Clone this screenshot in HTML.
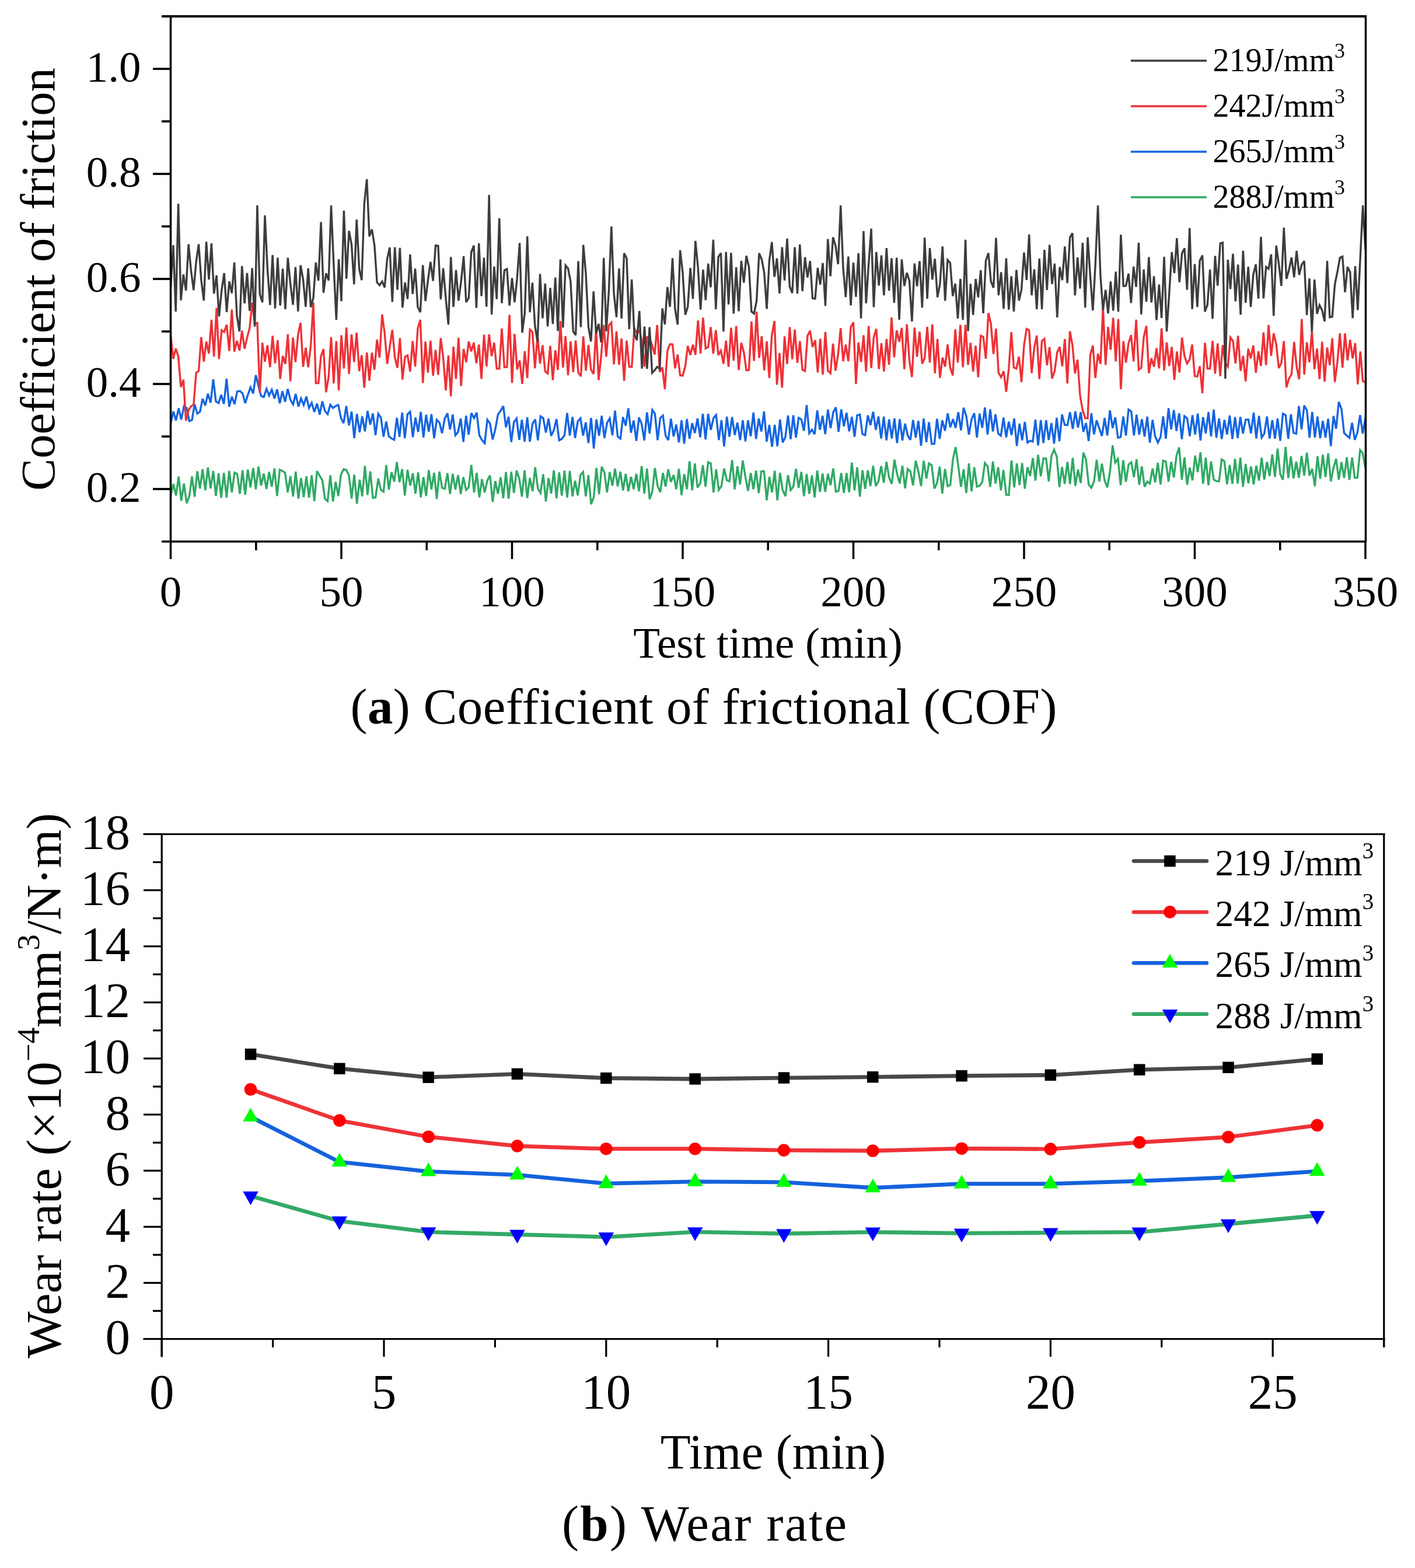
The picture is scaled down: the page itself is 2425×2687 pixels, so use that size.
<!DOCTYPE html>
<html><head><meta charset="utf-8"><title>Figure</title>
<style>html,body{margin:0;padding:0;background:#fff;}svg{display:block;}</style>
</head><body>
<svg width="2425" height="2687" viewBox="0 0 2425 2687">
<rect width="2425" height="2687" fill="#ffffff"/>
<g clip-path="url(#clipTop)">
<polyline fill="none" stroke="#2fa964" stroke-width="3.4" stroke-linejoin="miter" stroke-miterlimit="3" points="292.5,849.1 297.1,829.4 301.6,849.2 306.2,816.6 310.7,858.2 315.3,828.4 319.9,862.4 324.4,850.5 329.0,816.5 333.5,851.3 338.1,807.5 342.7,837.2 347.2,804.1 351.8,840.1 356.3,801.2 360.9,837.0 365.5,807.0 370.0,849.7 374.6,811.3 379.1,853.0 383.7,810.3 388.3,852.7 392.8,806.9 397.4,843.7 401.9,809.9 406.5,812.2 411.1,846.4 415.6,805.8 420.2,847.8 424.7,804.6 429.3,835.3 433.9,801.9 438.4,838.6 443.0,799.5 447.5,832.1 452.1,811.6 456.7,838.0 461.2,808.6 465.8,834.3 470.3,802.8 474.9,850.0 479.5,804.9 484.0,806.9 488.6,810.3 493.1,843.7 497.7,815.9 502.3,850.7 506.8,808.2 511.4,854.6 515.9,819.3 520.5,851.9 525.1,816.2 529.6,852.7 534.2,814.5 538.7,858.8 543.3,807.4 547.9,815.7 552.4,822.9 557.0,855.0 561.5,858.7 566.1,814.4 570.7,859.4 575.2,825.8 579.8,850.1 584.3,813.4 588.9,804.1 593.5,805.3 598.0,814.4 602.6,854.4 607.1,813.4 611.7,863.3 616.3,822.1 620.8,850.6 625.4,798.3 629.9,848.3 634.5,807.6 639.1,853.2 643.6,852.3 648.2,820.2 652.8,839.8 657.3,842.6 661.9,797.0 666.4,839.1 671.0,809.2 675.6,825.2 680.1,791.7 684.7,826.2 689.2,803.8 693.8,849.2 698.4,805.1 702.9,832.2 707.5,811.0 712.0,846.0 716.6,809.4 721.2,852.2 725.7,817.6 730.3,850.0 734.8,805.6 739.4,838.4 744.0,810.1 748.5,855.1 753.1,808.1 757.6,836.0 762.2,837.7 766.8,810.7 771.3,846.5 775.9,811.9 780.4,839.0 785.0,814.1 789.6,846.5 794.1,817.5 798.7,839.7 803.2,835.3 807.8,796.6 812.4,843.7 816.9,810.2 821.5,852.2 826.0,821.2 830.6,843.9 835.2,823.5 839.7,814.8 844.3,860.2 848.8,824.3 853.4,846.3 858.0,817.7 862.5,853.8 867.1,809.0 871.6,854.7 876.2,808.4 880.8,844.7 885.3,806.5 889.9,820.0 894.4,851.2 899.0,806.0 903.6,853.6 908.1,818.9 912.7,841.8 917.2,800.8 921.8,837.3 926.4,844.9 930.9,812.6 935.5,859.4 940.0,819.2 944.6,845.6 949.2,805.9 953.7,854.1 958.3,809.4 962.8,849.3 967.4,806.4 972.0,852.7 976.5,807.0 981.1,850.5 985.6,823.9 990.2,849.1 994.8,813.8 999.3,808.7 1003.9,850.5 1008.4,814.1 1013.0,864.2 1017.6,851.7 1022.1,801.6 1026.7,846.8 1031.2,799.8 1035.8,809.6 1040.4,843.9 1044.9,808.9 1049.5,832.5 1054.0,803.0 1058.6,833.4 1063.2,808.4 1067.7,840.6 1072.3,811.9 1076.8,842.0 1081.4,817.0 1086.0,838.3 1090.5,811.9 1095.1,841.9 1099.6,798.6 1104.2,845.9 1108.8,802.9 1113.3,855.4 1117.9,842.4 1122.4,802.0 1127.0,833.1 1131.6,843.4 1136.1,810.4 1140.7,833.8 1145.2,804.2 1149.8,825.8 1154.4,814.0 1158.9,838.5 1163.5,803.5 1168.0,848.6 1172.6,812.5 1177.2,838.3 1181.7,790.4 1186.3,840.4 1190.8,794.1 1195.4,835.6 1200.0,828.2 1204.5,797.3 1209.1,834.1 1213.6,792.0 1218.2,794.1 1222.8,843.9 1227.3,804.1 1231.9,839.5 1236.4,832.9 1241.0,802.8 1245.6,822.9 1250.1,824.8 1254.7,788.3 1259.2,838.5 1263.8,798.9 1268.4,830.3 1272.9,788.9 1277.5,817.6 1282.0,841.2 1286.6,810.4 1291.2,838.5 1295.7,806.4 1300.3,845.1 1304.8,807.6 1309.4,807.6 1314.0,857.3 1318.5,817.2 1323.1,843.9 1327.7,806.8 1332.2,857.3 1336.8,810.2 1341.3,840.0 1345.9,850.2 1350.5,814.2 1355.0,839.9 1359.6,833.9 1364.1,803.2 1368.7,836.0 1373.3,808.6 1377.8,850.2 1382.4,812.3 1386.9,846.3 1391.5,814.6 1396.1,852.4 1400.6,806.5 1405.2,843.1 1409.7,811.6 1414.3,842.9 1418.9,811.8 1423.4,831.4 1428.0,802.6 1432.5,842.5 1437.1,841.2 1441.7,810.4 1446.2,844.8 1450.8,810.7 1455.3,843.7 1459.9,792.7 1464.5,840.4 1469.0,800.9 1473.6,851.2 1478.1,805.8 1482.7,837.8 1487.3,806.0 1491.8,833.1 1496.4,798.2 1500.9,833.0 1505.5,824.8 1510.1,798.7 1514.6,827.4 1519.2,791.4 1523.7,818.2 1528.3,829.2 1532.9,787.8 1537.4,812.0 1542.0,828.6 1546.5,798.2 1551.1,836.9 1555.7,803.6 1560.2,807.7 1564.8,831.9 1569.3,789.5 1573.9,807.8 1578.5,833.0 1583.0,789.5 1587.6,820.3 1592.1,794.0 1596.7,797.3 1601.3,837.3 1605.8,827.9 1610.4,799.4 1614.9,845.8 1619.5,803.6 1624.1,833.2 1628.6,831.2 1633.2,786.6 1637.7,766.0 1642.3,798.7 1646.9,834.2 1651.4,804.3 1656.0,844.8 1660.5,794.1 1665.1,842.1 1669.7,800.8 1674.2,833.9 1678.8,832.3 1683.3,826.3 1687.9,793.3 1692.5,798.9 1697.0,834.4 1701.6,790.6 1706.1,828.7 1710.7,800.7 1715.3,840.2 1719.8,805.4 1724.4,847.8 1728.9,848.1 1733.5,789.2 1738.1,835.2 1742.6,794.2 1747.2,831.2 1751.7,793.5 1756.3,837.5 1760.9,800.6 1765.4,815.8 1770.0,784.9 1774.5,823.5 1779.1,779.5 1783.7,816.2 1788.2,785.6 1792.8,785.8 1797.3,825.0 1801.9,781.9 1806.5,770.5 1811.0,782.4 1815.6,834.9 1820.1,800.2 1824.7,829.3 1829.3,791.4 1833.8,829.5 1838.4,784.6 1842.9,832.6 1847.5,804.6 1852.1,827.8 1856.6,775.6 1861.2,787.4 1865.7,830.1 1870.3,835.9 1874.9,825.2 1879.4,787.9 1884.0,825.1 1888.5,794.6 1893.1,823.6 1897.7,835.1 1902.2,808.9 1906.8,763.3 1911.3,792.6 1915.9,786.2 1920.5,831.3 1925.0,788.6 1929.6,825.8 1934.1,796.3 1938.7,792.3 1943.3,817.8 1947.8,787.2 1952.4,830.8 1956.9,799.2 1961.5,834.1 1966.1,825.4 1970.6,828.7 1975.2,802.8 1979.7,826.7 1984.3,793.1 1988.9,830.3 1993.4,789.4 1998.0,791.0 2002.6,825.4 2007.1,791.4 2011.7,818.3 2016.2,781.0 2020.8,766.6 2025.4,822.3 2029.9,783.7 2034.5,830.6 2039.0,801.4 2043.6,823.1 2048.2,780.8 2052.7,808.9 2057.3,775.2 2061.8,829.1 2066.4,784.1 2071.0,831.5 2075.5,790.7 2080.1,821.9 2084.6,824.4 2089.2,824.9 2093.8,787.3 2098.3,790.4 2102.9,829.9 2107.4,796.8 2112.0,829.1 2116.6,786.2 2121.1,828.6 2125.7,784.1 2130.2,834.4 2134.8,795.0 2139.4,828.3 2143.9,799.2 2148.5,830.2 2153.0,798.0 2157.6,823.5 2162.2,784.5 2166.7,821.8 2171.3,791.4 2175.8,815.8 2180.4,778.6 2185.0,817.3 2189.5,768.8 2194.1,812.6 2198.6,822.2 2203.2,766.0 2207.8,819.1 2212.3,782.2 2216.9,819.7 2221.4,791.1 2226.0,818.7 2230.6,781.2 2235.1,815.1 2239.7,775.7 2244.2,815.0 2248.8,803.5 2253.4,833.3 2257.9,781.9 2262.5,820.5 2267.0,779.1 2271.6,817.6 2276.2,776.6 2280.7,824.8 2285.3,801.7 2289.8,786.1 2294.4,822.0 2299.0,791.8 2303.5,819.0 2308.1,783.6 2312.6,822.2 2317.2,784.2 2321.8,818.9 2326.3,818.5 2330.9,771.2 2335.4,776.5 2340.0,802.8"/>
<polyline fill="none" stroke="#1565e0" stroke-width="3.4" stroke-linejoin="miter" stroke-miterlimit="3" points="292.5,725.3 297.1,705.0 301.6,720.4 306.2,699.7 310.7,719.0 315.3,696.0 319.9,699.1 324.4,721.6 329.0,719.7 333.5,692.6 338.1,708.8 342.7,705.6 347.2,683.4 351.8,694.8 356.3,674.7 360.9,690.1 365.5,649.9 370.0,687.9 374.6,690.7 379.1,676.4 383.7,692.1 388.3,649.0 392.8,696.9 397.4,679.8 401.9,692.8 406.5,670.9 411.1,670.1 415.6,673.9 420.2,690.9 424.7,676.9 429.3,663.7 433.9,674.2 438.4,642.7 443.0,661.5 447.5,678.6 452.1,680.4 456.7,666.4 461.2,677.9 465.8,667.9 470.3,682.9 474.9,667.4 479.5,691.2 484.0,670.4 488.6,688.7 493.1,666.5 497.7,685.1 502.3,693.0 506.8,675.0 511.4,696.8 515.9,682.8 520.5,694.1 525.1,679.6 529.6,699.2 534.2,690.3 538.7,706.1 543.3,691.6 547.9,710.5 552.4,687.7 557.0,704.5 561.5,709.8 566.1,693.5 570.7,699.2 575.2,695.7 579.8,694.0 584.3,716.3 588.9,725.1 593.5,695.7 598.0,729.0 602.6,705.4 607.1,750.9 611.7,709.3 616.3,740.7 620.8,713.6 625.4,739.2 629.9,704.2 634.5,727.6 639.1,708.5 643.6,745.9 648.2,709.1 652.8,715.7 657.3,748.5 661.9,722.2 666.4,747.8 671.0,751.4 675.6,753.7 680.1,715.9 684.7,748.5 689.2,707.0 693.8,750.9 698.4,709.9 702.9,705.6 707.5,749.3 712.0,715.4 716.6,740.3 721.2,705.8 725.7,749.7 730.3,710.8 734.8,739.7 739.4,709.7 744.0,751.0 748.5,719.4 753.1,724.0 757.6,742.4 762.2,717.4 766.8,708.2 771.3,736.0 775.9,710.2 780.4,745.9 785.0,740.4 789.6,717.2 794.1,757.3 798.7,712.5 803.2,744.9 807.8,707.9 812.4,716.4 816.9,707.0 821.5,745.9 826.0,754.1 830.6,759.5 835.2,719.3 839.7,725.6 844.3,753.1 848.8,736.0 853.4,710.3 858.0,703.8 862.5,695.8 867.1,732.3 871.6,714.1 876.2,757.4 880.8,723.1 885.3,717.2 889.9,753.7 894.4,719.3 899.0,756.8 903.6,715.1 908.1,757.1 912.7,726.2 917.2,718.6 921.8,754.6 926.4,713.4 930.9,716.3 935.5,741.4 940.0,717.3 944.6,746.9 949.2,736.9 953.7,718.2 958.3,754.6 962.8,752.1 967.4,745.8 972.0,707.8 976.5,746.6 981.1,714.4 985.6,750.6 990.2,722.1 994.8,716.8 999.3,746.5 1003.9,723.8 1008.4,759.4 1013.0,716.2 1017.6,768.6 1022.1,718.8 1026.7,746.8 1031.2,712.4 1035.8,750.6 1040.4,724.7 1044.9,717.0 1049.5,746.0 1054.0,703.7 1058.6,748.1 1063.2,751.6 1067.7,714.8 1072.3,729.5 1076.8,699.6 1081.4,741.5 1086.0,720.4 1090.5,755.6 1095.1,715.4 1099.6,726.4 1104.2,754.8 1108.8,706.6 1113.3,742.7 1117.9,702.6 1122.4,708.9 1127.0,754.3 1131.6,716.1 1136.1,712.1 1140.7,746.5 1145.2,754.2 1149.8,717.5 1154.4,748.0 1158.9,727.4 1163.5,758.1 1168.0,720.3 1172.6,760.3 1177.2,718.0 1181.7,752.0 1186.3,725.1 1190.8,742.3 1195.4,717.1 1200.0,749.4 1204.5,709.3 1209.1,753.0 1213.6,709.1 1218.2,736.6 1222.8,716.3 1227.3,711.2 1231.9,754.1 1236.4,720.0 1241.0,765.0 1245.6,713.9 1250.1,748.6 1254.7,714.7 1259.2,745.4 1263.8,724.3 1268.4,754.3 1272.9,720.1 1277.5,756.3 1282.0,720.3 1286.6,747.6 1291.2,707.0 1295.7,752.2 1300.3,717.1 1304.8,739.5 1309.4,704.9 1314.0,756.8 1318.5,728.1 1323.1,765.6 1327.7,727.9 1332.2,764.8 1336.8,718.9 1341.3,758.1 1345.9,749.2 1350.5,712.0 1355.0,752.6 1359.6,711.8 1364.1,749.9 1368.7,716.0 1373.3,718.6 1377.8,738.4 1382.4,694.2 1386.9,742.4 1391.5,736.3 1396.1,744.1 1400.6,703.3 1405.2,736.6 1409.7,712.6 1414.3,744.1 1418.9,701.8 1423.4,733.6 1428.0,706.4 1432.5,698.0 1437.1,740.0 1441.7,701.4 1446.2,730.4 1450.8,707.3 1455.3,739.2 1459.9,714.2 1464.5,748.5 1469.0,711.5 1473.6,710.3 1478.1,743.7 1482.7,745.7 1487.3,711.7 1491.8,728.6 1496.4,705.5 1500.9,736.6 1505.5,713.7 1510.1,751.5 1514.6,714.0 1519.2,754.5 1523.7,718.7 1528.3,751.4 1532.9,716.9 1537.4,759.2 1542.0,718.2 1546.5,754.7 1551.1,725.9 1555.7,746.3 1560.2,753.8 1564.8,719.7 1569.3,750.0 1573.9,721.1 1578.5,763.8 1583.0,717.1 1587.6,757.9 1592.1,723.5 1596.7,760.7 1601.3,760.4 1605.8,717.8 1610.4,752.0 1614.9,720.3 1619.5,738.3 1624.1,708.4 1628.6,732.3 1633.2,718.3 1637.7,733.2 1642.3,706.2 1646.9,737.5 1651.4,698.7 1656.0,713.0 1660.5,744.7 1665.1,718.4 1669.7,708.2 1674.2,749.9 1678.8,708.8 1683.3,733.3 1687.9,698.1 1692.5,744.5 1697.0,701.5 1701.6,739.4 1706.1,710.1 1710.7,743.0 1715.3,746.7 1719.8,715.6 1724.4,749.4 1728.9,722.6 1733.5,745.4 1738.1,717.2 1742.6,764.2 1747.2,725.9 1751.7,754.6 1756.3,722.9 1760.9,758.5 1765.4,755.4 1770.0,756.7 1774.5,719.3 1779.1,763.3 1783.7,719.9 1788.2,759.2 1792.8,720.0 1797.3,754.1 1801.9,724.9 1806.5,760.3 1811.0,715.9 1815.6,756.2 1820.1,710.1 1824.7,728.2 1829.3,728.5 1833.8,706.4 1838.4,735.1 1842.9,704.9 1847.5,732.6 1852.1,706.2 1856.6,740.1 1861.2,725.0 1865.7,755.7 1870.3,708.0 1874.9,744.4 1879.4,720.2 1884.0,734.6 1888.5,747.1 1893.1,716.3 1897.7,746.4 1902.2,703.2 1906.8,733.6 1911.3,715.1 1915.9,750.2 1920.5,748.9 1925.0,713.8 1929.6,746.4 1934.1,701.9 1938.7,705.2 1943.3,746.4 1947.8,710.6 1952.4,744.7 1956.9,718.2 1961.5,748.2 1966.1,714.0 1970.6,758.6 1975.2,719.6 1979.7,747.8 1984.3,758.4 1988.9,749.1 1993.4,713.5 1998.0,751.9 2002.6,699.4 2007.1,735.7 2011.7,702.7 2016.2,738.5 2020.8,708.3 2025.4,752.6 2029.9,713.1 2034.5,716.8 2039.0,747.5 2043.6,711.5 2048.2,744.8 2052.7,708.7 2057.3,754.8 2061.8,714.8 2066.4,742.7 2071.0,706.2 2075.5,747.8 2080.1,701.8 2084.6,750.2 2089.2,717.1 2093.8,752.2 2098.3,719.5 2102.9,744.5 2107.4,712.0 2112.0,752.2 2116.6,714.6 2121.1,750.7 2125.7,714.4 2130.2,743.0 2134.8,719.3 2139.4,718.9 2143.9,742.6 2148.5,707.2 2153.0,751.3 2157.6,712.7 2162.2,750.0 2166.7,743.1 2171.3,713.7 2175.8,751.5 2180.4,720.1 2185.0,751.7 2189.5,717.2 2194.1,755.3 2198.6,708.9 2203.2,711.3 2207.8,751.8 2212.3,709.9 2216.9,741.8 2221.4,743.3 2226.0,695.8 2230.6,735.8 2235.1,694.9 2239.7,703.0 2244.2,750.2 2248.8,706.0 2253.4,749.7 2257.9,713.7 2262.5,751.0 2267.0,721.2 2271.6,750.0 2276.2,717.6 2280.7,764.5 2285.3,712.9 2289.8,734.7 2294.4,688.7 2299.0,700.9 2303.5,742.3 2308.1,746.6 2312.6,750.4 2317.2,724.5 2321.8,753.8 2326.3,741.3 2330.9,711.3 2335.4,743.1 2340.0,716.3"/>
<polyline fill="none" stroke="#ee3136" stroke-width="3.4" stroke-linejoin="miter" stroke-miterlimit="3" points="292.5,574.4 296.9,615.1 301.2,597.4 305.6,610.9 310.0,663.1 314.3,650.7 318.7,721.0 323.1,703.0 327.4,696.4 331.8,693.3 336.2,639.0 340.5,635.7 344.9,577.6 349.3,619.8 353.6,585.3 358.0,605.9 362.4,547.8 366.7,611.1 371.1,527.6 375.4,615.3 379.8,565.8 384.2,569.0 388.5,556.5 392.9,601.6 397.3,530.7 401.6,602.7 406.0,583.9 410.4,600.6 414.7,566.8 419.1,597.5 423.5,578.6 427.8,562.3 432.2,518.5 436.6,554.7 440.9,553.3 445.3,673.0 449.7,587.4 454.0,619.8 458.4,591.6 462.8,629.2 467.1,575.5 471.5,622.5 475.9,583.0 480.2,649.3 484.6,610.0 489.0,623.7 493.3,572.7 497.7,653.3 502.1,578.3 506.4,620.7 510.8,573.2 515.1,553.2 519.5,628.6 523.9,595.7 528.2,629.3 532.6,592.4 537.0,518.5 541.3,656.5 545.7,656.5 550.1,610.4 554.4,598.1 558.8,672.2 563.2,645.5 567.5,577.9 571.9,656.8 576.3,584.5 580.6,669.0 585.0,574.5 589.4,631.5 593.7,561.3 598.1,640.8 602.5,573.0 606.8,620.4 611.2,570.0 615.6,636.1 619.9,608.6 624.3,664.3 628.7,604.2 633.0,652.5 637.4,604.3 641.8,633.7 646.1,581.9 650.5,612.7 654.9,538.9 659.2,571.1 663.6,623.5 667.9,594.6 672.3,565.4 676.7,612.4 681.0,630.4 685.4,579.4 689.8,650.5 694.1,611.5 698.5,609.2 702.9,636.8 707.2,584.5 711.6,628.2 716.0,562.7 720.3,548.0 724.7,656.3 729.1,585.4 733.4,638.6 737.8,583.8 742.2,643.8 746.5,599.7 750.9,642.3 755.3,579.4 759.6,612.7 764.0,669.0 768.4,609.2 772.7,679.1 777.1,594.1 781.5,649.4 785.8,578.8 790.2,661.7 794.6,598.1 798.9,620.7 803.3,585.2 807.6,602.2 812.0,587.3 816.4,622.5 820.7,590.4 825.1,649.3 829.5,573.5 833.8,627.9 838.2,572.9 842.6,610.2 846.9,587.2 851.3,631.6 855.7,632.0 860.0,562.8 864.4,629.3 868.8,629.2 873.1,539.6 877.5,656.1 881.9,572.1 886.2,633.2 890.6,617.8 895.0,657.8 899.3,601.7 903.7,647.8 908.1,564.9 912.4,568.8 916.8,631.1 921.2,574.2 925.5,623.2 929.9,591.7 934.3,636.4 938.6,640.0 943.0,592.7 947.4,651.4 951.7,600.3 956.1,634.0 960.4,550.4 964.8,629.8 969.2,576.0 973.5,643.1 977.9,585.2 982.3,637.6 986.6,583.5 991.0,638.4 995.4,644.9 999.7,576.4 1004.1,635.4 1008.5,591.1 1012.8,633.4 1017.2,640.9 1021.6,563.7 1025.9,651.4 1030.3,609.5 1034.7,556.9 1039.0,611.3 1043.4,557.6 1047.8,552.6 1052.1,624.3 1056.5,567.8 1060.9,624.8 1065.2,580.1 1069.6,652.7 1074.0,583.7 1078.3,628.5 1082.7,628.9 1087.1,561.8 1091.4,571.8 1095.8,566.5 1100.1,584.8 1104.5,628.6 1108.9,577.9 1113.2,578.3 1117.6,592.3 1122.0,607.6 1126.3,557.0 1130.7,637.3 1135.1,629.5 1139.4,667.0 1143.8,600.7 1148.2,589.7 1152.5,590.0 1156.9,631.2 1161.3,607.6 1165.6,643.2 1170.0,643.8 1174.4,627.4 1178.7,592.8 1183.1,608.4 1187.5,590.7 1191.8,608.1 1196.2,549.1 1200.6,605.9 1204.9,544.4 1209.3,597.1 1213.7,594.6 1218.0,560.4 1222.4,606.0 1226.8,565.7 1231.1,608.6 1235.5,600.8 1239.9,623.4 1244.2,583.7 1248.6,628.6 1252.9,561.6 1257.3,618.0 1261.7,558.7 1266.0,634.2 1270.4,587.5 1274.8,603.7 1279.1,634.6 1283.5,634.0 1287.9,550.9 1292.2,618.6 1296.6,534.2 1301.0,613.3 1305.3,576.1 1309.7,634.7 1314.1,584.9 1318.4,647.6 1322.8,574.0 1327.2,550.1 1331.5,659.3 1335.9,604.8 1340.3,664.3 1344.6,576.4 1349.0,623.9 1353.4,560.5 1357.7,615.7 1362.1,564.6 1366.5,621.8 1370.8,584.5 1375.2,633.7 1379.6,635.9 1383.9,575.5 1388.3,566.8 1392.6,594.7 1397.0,583.0 1401.4,638.4 1405.7,580.4 1410.1,642.0 1414.5,568.9 1418.8,635.3 1423.2,639.6 1427.6,589.0 1431.9,635.3 1436.3,607.6 1440.7,562.3 1445.0,619.1 1449.4,590.6 1453.8,619.1 1458.1,560.5 1462.5,552.2 1466.9,658.2 1471.2,587.0 1475.6,620.3 1480.0,574.3 1484.3,637.2 1488.7,558.5 1493.1,630.6 1497.4,578.1 1501.8,563.5 1506.2,632.5 1510.5,588.1 1514.9,636.6 1519.3,580.8 1523.6,625.0 1528.0,544.1 1532.4,612.3 1536.7,566.0 1541.1,585.6 1545.4,561.8 1549.8,632.6 1554.2,555.6 1558.5,618.4 1562.9,646.2 1567.3,561.4 1571.6,611.4 1576.0,568.5 1580.4,623.3 1584.7,613.8 1589.1,560.0 1593.5,621.5 1597.8,555.8 1602.2,639.6 1606.6,580.9 1610.9,647.6 1615.3,612.6 1619.7,628.4 1624.0,590.1 1628.4,630.0 1632.8,643.5 1637.1,564.4 1641.5,621.4 1645.9,556.7 1650.2,629.3 1654.6,556.3 1659.0,625.3 1663.3,587.4 1667.7,636.7 1672.1,592.3 1676.4,646.4 1680.8,575.3 1685.1,577.1 1689.5,614.7 1693.9,536.5 1698.2,555.1 1702.6,606.5 1707.0,563.1 1711.3,638.8 1715.7,646.5 1720.1,636.2 1724.4,671.5 1728.8,631.9 1733.2,569.0 1737.5,629.8 1741.9,631.6 1746.3,611.2 1750.6,654.8 1755.0,591.3 1759.4,563.7 1763.7,565.9 1768.1,639.3 1772.5,595.7 1776.8,575.0 1781.2,649.7 1785.6,584.4 1789.9,580.8 1794.3,625.9 1798.7,595.0 1803.0,648.6 1807.4,636.1 1811.8,603.7 1816.1,594.5 1820.5,627.7 1824.9,580.9 1829.2,657.1 1833.6,567.6 1837.9,591.2 1842.3,639.9 1846.7,616.3 1851.0,677.9 1855.4,703.0 1859.8,716.5 1864.1,716.7 1868.5,608.3 1872.9,592.2 1877.2,647.7 1881.6,606.2 1886.0,623.7 1890.3,527.0 1894.7,625.4 1899.1,560.1 1903.4,599.3 1907.8,544.5 1912.2,619.4 1916.5,546.9 1920.9,667.0 1925.3,584.6 1929.6,621.6 1934.0,588.5 1938.4,574.2 1942.7,619.3 1947.1,547.8 1951.5,633.5 1955.8,630.4 1960.2,577.5 1964.6,558.5 1968.9,639.4 1973.3,613.9 1977.6,628.5 1982.0,596.8 1986.4,631.3 1990.7,562.6 1995.1,634.9 1999.5,586.7 2003.8,627.3 2008.2,594.5 2012.6,650.9 2016.9,602.3 2021.3,638.4 2025.7,578.4 2030.0,610.3 2034.4,622.9 2038.8,615.8 2043.1,590.4 2047.5,644.3 2051.9,645.3 2056.2,627.6 2060.6,673.9 2065.0,587.3 2069.3,631.5 2073.7,631.7 2078.1,584.2 2082.4,640.3 2086.8,588.4 2091.2,644.6 2095.5,591.5 2099.9,621.9 2104.3,628.3 2108.6,578.3 2113.0,584.4 2117.4,622.8 2121.7,575.4 2126.1,635.5 2130.4,609.8 2134.8,653.7 2139.2,597.6 2143.5,614.1 2147.9,591.9 2152.3,638.9 2156.6,601.9 2161.0,627.2 2165.4,569.7 2169.7,625.6 2174.1,556.9 2178.5,609.9 2182.8,571.2 2187.2,590.4 2191.6,630.7 2195.9,622.3 2200.3,584.4 2204.7,663.8 2209.0,648.6 2213.4,641.4 2217.8,586.0 2222.1,628.1 2226.5,650.0 2230.9,546.7 2235.2,641.8 2239.6,586.6 2244.0,620.9 2248.3,567.6 2252.7,632.7 2257.1,597.3 2261.4,649.7 2265.8,585.7 2270.1,654.2 2274.5,595.6 2278.9,625.7 2283.2,579.6 2287.6,654.8 2292.0,620.6 2296.3,571.1 2300.7,630.2 2305.1,571.5 2309.4,617.6 2313.8,582.3 2318.2,614.2 2322.5,587.9 2326.9,658.7 2331.3,602.3 2335.6,653.1 2340.0,654.9"/>
<polyline fill="none" stroke="#3d3d3d" stroke-width="3.4" stroke-linejoin="miter" stroke-miterlimit="3" points="292.5,493.5 296.9,420.0 301.2,534.0 305.6,349.0 310.0,514.7 314.3,470.3 318.7,498.0 323.1,418.5 327.4,463.6 331.8,497.3 336.2,448.4 340.5,418.4 344.9,480.4 349.3,515.2 353.6,414.3 358.0,479.2 362.4,417.1 366.7,503.2 371.1,471.8 375.4,542.2 379.8,497.5 384.2,468.1 388.5,534.8 392.9,482.1 397.3,502.5 401.6,449.9 406.0,541.1 410.4,568.0 414.7,455.8 419.1,519.8 423.5,467.9 427.8,532.6 432.2,459.3 436.6,559.8 440.9,352.0 445.3,504.5 449.7,518.1 454.0,369.1 458.4,461.1 462.8,522.7 467.1,437.1 471.5,528.6 475.9,441.7 480.2,523.7 484.6,460.4 489.0,529.8 493.3,441.7 497.7,486.5 502.1,522.3 506.4,457.5 510.8,533.6 515.1,454.6 519.5,479.0 523.9,525.9 528.2,459.8 532.6,526.5 537.0,510.2 541.3,449.8 545.7,481.0 550.1,380.5 554.4,501.7 558.8,468.3 563.2,480.7 567.5,352.0 571.9,453.6 576.3,548.2 580.6,444.4 585.0,516.1 589.4,360.9 593.7,477.6 598.1,395.5 602.5,418.6 606.8,487.3 611.2,376.4 615.6,460.7 619.9,480.2 624.3,348.9 628.7,307.0 633.0,405.2 637.4,393.1 641.8,420.6 646.1,483.8 650.5,488.7 654.9,482.3 659.2,492.6 663.6,443.7 667.9,424.2 672.3,517.3 676.7,423.6 681.0,496.7 685.4,424.7 689.8,527.0 694.1,483.9 698.5,512.5 702.9,436.2 707.2,503.8 711.6,460.3 716.0,526.4 720.3,535.1 724.7,454.4 729.1,516.0 733.4,480.5 737.8,448.7 742.2,481.4 746.5,420.6 750.9,421.3 755.3,513.0 759.6,459.6 764.0,511.3 768.4,556.1 772.7,440.3 777.1,525.9 781.5,462.6 785.8,515.3 790.2,482.6 794.6,439.0 798.9,517.8 803.3,510.7 807.6,432.5 812.0,420.7 816.4,527.6 820.7,416.8 825.1,507.3 829.5,441.7 833.8,525.7 838.2,334.0 842.6,539.0 846.9,456.9 851.3,512.6 855.7,374.0 860.0,519.5 864.4,463.1 868.8,460.9 873.1,523.6 877.5,476.5 881.9,518.1 886.2,477.2 890.6,416.3 895.0,570.1 899.3,536.2 903.7,405.0 908.1,535.2 912.4,484.3 916.8,558.6 921.2,585.2 925.5,469.3 929.9,545.4 934.3,486.0 938.6,559.3 943.0,493.3 947.4,555.1 951.7,475.5 956.1,567.1 960.4,444.6 964.8,561.5 969.2,454.7 973.5,460.0 977.9,482.7 982.3,568.0 986.6,574.2 991.0,447.6 995.4,560.7 999.7,419.6 1004.1,470.1 1008.5,560.6 1012.8,585.2 1017.2,499.3 1021.6,571.5 1025.9,554.9 1030.3,586.8 1034.7,441.7 1039.0,567.6 1043.4,498.6 1047.8,388.0 1052.1,502.8 1056.5,543.5 1060.9,460.2 1065.2,545.8 1069.6,434.0 1074.0,442.6 1078.3,564.2 1082.7,478.8 1087.1,572.7 1091.4,583.0 1095.8,532.9 1100.1,631.6 1104.5,559.7 1108.9,632.2 1113.2,560.5 1117.6,639.1 1122.0,634.5 1126.3,628.6 1130.7,631.7 1135.1,528.5 1139.4,556.1 1143.8,491.9 1148.2,526.0 1152.5,442.4 1156.9,529.5 1161.3,556.3 1165.6,428.8 1170.0,467.3 1174.4,539.5 1178.7,525.9 1183.1,459.1 1187.5,512.2 1191.8,412.8 1196.2,458.1 1200.6,530.7 1204.9,462.1 1209.3,514.3 1213.7,451.7 1218.0,492.3 1222.4,410.7 1226.8,530.0 1231.1,440.2 1235.5,433.7 1239.9,568.1 1244.2,431.7 1248.6,521.6 1252.9,433.1 1257.3,537.4 1261.7,457.9 1266.0,533.5 1270.4,446.9 1274.8,484.3 1279.1,438.5 1283.5,457.5 1287.9,533.8 1292.2,537.4 1296.6,516.0 1301.0,433.8 1305.3,444.3 1309.7,467.2 1314.1,529.3 1318.4,447.0 1322.8,414.8 1327.2,474.4 1331.5,442.8 1335.9,502.8 1340.3,423.7 1344.6,480.7 1349.0,408.8 1353.4,491.3 1357.7,502.2 1362.1,423.6 1366.5,503.2 1370.8,418.8 1375.2,499.0 1379.6,440.7 1383.9,475.6 1388.3,447.3 1392.6,511.3 1397.0,511.9 1401.4,459.0 1405.7,487.7 1410.1,450.8 1414.5,524.1 1418.8,409.5 1423.2,473.5 1427.6,406.6 1431.9,420.8 1436.3,452.8 1440.7,352.0 1445.0,459.6 1449.4,509.1 1453.8,439.7 1458.1,523.5 1462.5,450.1 1466.9,508.7 1471.2,433.8 1475.6,545.7 1480.0,396.1 1484.3,519.6 1488.7,452.0 1493.1,391.9 1497.4,526.3 1501.8,431.8 1506.2,489.3 1510.5,437.7 1514.9,506.1 1519.3,425.0 1523.6,498.1 1528.0,442.5 1532.4,518.9 1536.7,441.5 1541.1,547.9 1545.4,444.5 1549.8,490.2 1554.2,467.4 1558.5,481.1 1562.9,550.8 1567.3,451.5 1571.6,490.5 1576.0,447.4 1580.4,527.3 1584.7,407.4 1589.1,511.9 1593.5,425.0 1597.8,479.2 1602.2,443.5 1606.6,509.4 1610.9,486.9 1615.3,422.3 1619.7,515.3 1624.0,445.5 1628.4,450.6 1632.8,507.4 1637.1,486.2 1641.5,545.8 1645.9,477.8 1650.2,548.2 1654.6,410.7 1659.0,567.5 1663.3,486.3 1667.7,539.7 1672.1,478.0 1676.4,509.5 1680.8,463.1 1685.1,537.0 1689.5,446.5 1693.9,433.7 1698.2,482.2 1702.6,493.2 1707.0,407.5 1711.3,506.0 1715.7,466.4 1720.1,529.1 1724.4,442.6 1728.8,530.7 1733.2,473.3 1737.5,534.0 1741.9,462.5 1746.3,515.2 1750.6,496.2 1755.0,432.7 1759.4,479.8 1763.7,401.9 1768.1,506.0 1772.5,461.5 1776.8,530.0 1781.2,443.2 1785.6,529.9 1789.9,428.0 1794.3,496.9 1798.7,419.6 1803.0,486.9 1807.4,451.7 1811.8,543.8 1816.1,457.5 1820.5,480.2 1824.9,422.4 1829.2,485.2 1833.6,407.0 1837.9,399.5 1842.3,506.3 1846.7,441.2 1851.0,494.5 1855.4,416.1 1859.8,527.3 1864.1,406.5 1868.5,473.8 1872.9,532.0 1877.2,454.3 1881.6,352.0 1886.0,473.1 1890.3,531.4 1894.7,496.6 1899.1,537.0 1903.4,482.5 1907.8,532.3 1912.2,465.6 1916.5,534.2 1920.9,402.1 1925.3,490.3 1929.6,490.0 1934.0,468.9 1938.4,519.4 1942.7,456.9 1947.1,491.7 1951.5,415.9 1955.8,538.7 1960.2,461.8 1964.6,517.2 1968.9,440.6 1973.3,518.4 1977.6,473.3 1982.0,548.5 1986.4,487.6 1990.7,545.0 1995.1,440.0 1999.5,568.2 2003.8,502.5 2008.2,432.0 2012.6,468.1 2016.9,408.1 2021.3,483.6 2025.7,434.0 2030.0,425.4 2034.4,496.6 2038.8,390.7 2043.1,529.8 2047.5,452.6 2051.9,526.1 2056.2,446.6 2060.6,437.7 2065.0,534.2 2069.3,522.5 2073.7,461.8 2078.1,546.4 2082.4,438.6 2086.8,489.7 2091.2,417.0 2095.5,415.7 2099.9,649.0 2104.3,445.1 2108.6,495.3 2113.0,434.8 2117.4,516.3 2121.7,453.3 2126.1,539.4 2130.4,429.5 2134.8,519.0 2139.2,457.1 2143.5,526.0 2147.9,470.1 2152.3,453.0 2156.6,511.6 2161.0,405.9 2165.4,511.4 2169.7,457.3 2174.1,460.5 2178.5,435.8 2182.8,541.3 2187.2,420.9 2191.6,452.2 2195.9,490.0 2200.3,390.0 2204.7,478.0 2209.0,462.9 2213.4,441.1 2217.8,475.4 2222.1,430.0 2226.5,471.0 2230.9,453.4 2235.2,447.3 2239.6,540.0 2244.0,477.0 2248.3,568.7 2252.7,479.0 2257.1,537.8 2261.4,522.9 2265.8,531.7 2270.1,550.6 2274.5,447.0 2278.9,543.7 2283.2,542.8 2287.6,487.5 2292.0,466.2 2296.3,441.7 2300.7,439.6 2305.1,500.8 2309.4,457.4 2313.8,466.2 2318.2,545.1 2322.5,456.1 2326.9,531.4 2331.3,440.2 2335.6,352.0 2340.0,427.3"/>
</g>
<defs><clipPath id="clipTop"><rect x="293" y="30" width="2046" height="896"/></clipPath></defs>
<g stroke="#000" fill="none">
<line x1="277" y1="28" x2="2342" y2="28" stroke-width="4"/>
<line x1="2340.5" y1="26" x2="2340.5" y2="930" stroke-width="3.5"/>
<line x1="277" y1="928" x2="2342" y2="928" stroke-width="3.5"/>
<line x1="292.5" y1="26" x2="292.5" y2="929" stroke-width="3.5"/>
<line x1="262.0" y1="838.0" x2="292.5" y2="838.0" stroke-width="3.7"/>
<line x1="277.0" y1="748.0" x2="292.5" y2="748.0" stroke-width="3.7"/>
<line x1="262.0" y1="658.0" x2="292.5" y2="658.0" stroke-width="3.7"/>
<line x1="277.0" y1="568.0" x2="292.5" y2="568.0" stroke-width="3.7"/>
<line x1="262.0" y1="478.0" x2="292.5" y2="478.0" stroke-width="3.7"/>
<line x1="277.0" y1="388.0" x2="292.5" y2="388.0" stroke-width="3.7"/>
<line x1="262.0" y1="298.0" x2="292.5" y2="298.0" stroke-width="3.7"/>
<line x1="277.0" y1="208.0" x2="292.5" y2="208.0" stroke-width="3.7"/>
<line x1="262.0" y1="118.0" x2="292.5" y2="118.0" stroke-width="3.7"/>
<line x1="292.5" y1="928" x2="292.5" y2="958.0" stroke-width="3.5"/>
<line x1="438.8" y1="928" x2="438.8" y2="943.0" stroke-width="3.5"/>
<line x1="585.0" y1="928" x2="585.0" y2="958.0" stroke-width="3.5"/>
<line x1="731.2" y1="928" x2="731.2" y2="943.0" stroke-width="3.5"/>
<line x1="877.5" y1="928" x2="877.5" y2="958.0" stroke-width="3.5"/>
<line x1="1023.8" y1="928" x2="1023.8" y2="943.0" stroke-width="3.5"/>
<line x1="1170.0" y1="928" x2="1170.0" y2="958.0" stroke-width="3.5"/>
<line x1="1316.2" y1="928" x2="1316.2" y2="943.0" stroke-width="3.5"/>
<line x1="1462.5" y1="928" x2="1462.5" y2="958.0" stroke-width="3.5"/>
<line x1="1608.8" y1="928" x2="1608.8" y2="943.0" stroke-width="3.5"/>
<line x1="1755.0" y1="928" x2="1755.0" y2="958.0" stroke-width="3.5"/>
<line x1="1901.2" y1="928" x2="1901.2" y2="943.0" stroke-width="3.5"/>
<line x1="2047.5" y1="928" x2="2047.5" y2="958.0" stroke-width="3.5"/>
<line x1="2193.8" y1="928" x2="2193.8" y2="943.0" stroke-width="3.5"/>
<line x1="2340.0" y1="928" x2="2340.0" y2="958.0" stroke-width="3.5"/>
</g>
<g font-family="'Liberation Serif', 'Times New Roman', serif" font-size="75" fill="#000">
<text x="241.5" y="139.5" text-anchor="end">1.0</text>
<text x="241.5" y="319.5" text-anchor="end">0.8</text>
<text x="241.5" y="499.5" text-anchor="end">0.6</text>
<text x="241.5" y="679.5" text-anchor="end">0.4</text>
<text x="241.5" y="859.5" text-anchor="end">0.2</text>
<text x="292.5" y="1038.5" text-anchor="middle">0</text>
<text x="585.0" y="1038.5" text-anchor="middle">50</text>
<text x="877.5" y="1038.5" text-anchor="middle">100</text>
<text x="1170.0" y="1038.5" text-anchor="middle">150</text>
<text x="1462.5" y="1038.5" text-anchor="middle">200</text>
<text x="1755.0" y="1038.5" text-anchor="middle">250</text>
<text x="2047.5" y="1038.5" text-anchor="middle">300</text>
<text x="2340.0" y="1038.5" text-anchor="middle">350</text>
</g>
<text font-family="'Liberation Serif', 'Times New Roman', serif" font-size="75" x="1316" y="1127" text-anchor="middle">Test time (min)</text>
<text font-family="'Liberation Serif', 'Times New Roman', serif" font-size="82.8" transform="translate(93 478.5) rotate(-90)" text-anchor="middle">Coefficient of friction</text>
<line x1="1938" y1="104.0" x2="2068" y2="104.0" stroke="#3d3d3d" stroke-width="3.5"/>
<text font-family="'Liberation Serif', 'Times New Roman', serif" font-size="56" x="2078.5" y="122.0">219J/mm<tspan font-size="36" dy="-23">3</tspan></text>
<line x1="1938" y1="182.0" x2="2068" y2="182.0" stroke="#ee3136" stroke-width="3.5"/>
<text font-family="'Liberation Serif', 'Times New Roman', serif" font-size="56" x="2078.5" y="200.0">242J/mm<tspan font-size="36" dy="-23">3</tspan></text>
<line x1="1938" y1="260.0" x2="2068" y2="260.0" stroke="#1565e0" stroke-width="3.5"/>
<text font-family="'Liberation Serif', 'Times New Roman', serif" font-size="56" x="2078.5" y="278.0">265J/mm<tspan font-size="36" dy="-23">3</tspan></text>
<line x1="1938" y1="338.0" x2="2068" y2="338.0" stroke="#2fa964" stroke-width="3.5"/>
<text font-family="'Liberation Serif', 'Times New Roman', serif" font-size="56" x="2078.5" y="356.0">288J/mm<tspan font-size="36" dy="-23">3</tspan></text>
<text font-family="'Liberation Serif', 'Times New Roman', serif" font-size="87" x="1206" y="1240" text-anchor="middle" textLength="1211" lengthAdjust="spacing">(<tspan font-weight="bold">a</tspan>) Coefficient of frictional (COF)</text>
<polyline fill="none" stroke="#484848" stroke-width="6.8" stroke-linejoin="round" points="429.5,1806.7 581.8,1831.2 734.2,1846.1 886.5,1840.3 1038.8,1847.5 1191.1,1849.0 1343.4,1847.1 1495.8,1845.6 1648.1,1843.7 1800.4,1842.3 1952.7,1833.1 2105.0,1829.3 2257.4,1814.9"/>
<polyline fill="none" stroke="#ee3338" stroke-width="6.8" stroke-linejoin="round" points="429.5,1866.8 581.8,1920.1 734.2,1948.0 886.5,1963.8 1038.8,1968.7 1191.1,1968.7 1343.4,1971.1 1495.8,1972.0 1648.1,1968.2 1800.4,1969.1 1952.7,1957.6 2105.0,1948.5 2257.4,1928.3"/>
<polyline fill="none" stroke="#1462dc" stroke-width="6.8" stroke-linejoin="round" points="429.5,1913.9 581.8,1991.2 734.2,2007.6 886.5,2013.3 1038.8,2028.2 1191.1,2024.9 1343.4,2025.8 1495.8,2035.5 1648.1,2028.7 1800.4,2028.7 1952.7,2023.9 2105.0,2017.7 2257.4,2007.1"/>
<polyline fill="none" stroke="#33aa66" stroke-width="6.8" stroke-linejoin="round" points="429.5,2049.6 581.8,2092.4 734.2,2111.2 886.5,2115.5 1038.8,2119.8 1191.1,2111.2 1343.4,2114.0 1495.8,2111.4 1648.1,2113.3 1800.4,2112.4 1952.7,2111.4 2105.0,2097.5 2257.4,2083.0"/>
<rect x="419.8" y="1796.9" width="19.5" height="19.5" fill="#000"/>
<rect x="572.1" y="1821.5" width="19.5" height="19.5" fill="#000"/>
<rect x="724.4" y="1836.4" width="19.5" height="19.5" fill="#000"/>
<rect x="876.7" y="1830.6" width="19.5" height="19.5" fill="#000"/>
<rect x="1029.0" y="1837.8" width="19.5" height="19.5" fill="#000"/>
<rect x="1181.4" y="1839.2" width="19.5" height="19.5" fill="#000"/>
<rect x="1333.7" y="1837.3" width="19.5" height="19.5" fill="#000"/>
<rect x="1486.0" y="1835.9" width="19.5" height="19.5" fill="#000"/>
<rect x="1638.3" y="1833.9" width="19.5" height="19.5" fill="#000"/>
<rect x="1790.6" y="1832.5" width="19.5" height="19.5" fill="#000"/>
<rect x="1943.0" y="1823.4" width="19.5" height="19.5" fill="#000"/>
<rect x="2095.3" y="1819.5" width="19.5" height="19.5" fill="#000"/>
<rect x="2247.6" y="1805.1" width="19.5" height="19.5" fill="#000"/>
<circle cx="429.5" cy="1866.8" r="10.8" fill="#ff0000"/>
<circle cx="581.8" cy="1920.1" r="10.8" fill="#ff0000"/>
<circle cx="734.2" cy="1948.0" r="10.8" fill="#ff0000"/>
<circle cx="886.5" cy="1963.8" r="10.8" fill="#ff0000"/>
<circle cx="1038.8" cy="1968.7" r="10.8" fill="#ff0000"/>
<circle cx="1191.1" cy="1968.7" r="10.8" fill="#ff0000"/>
<circle cx="1343.4" cy="1971.1" r="10.8" fill="#ff0000"/>
<circle cx="1495.8" cy="1972.0" r="10.8" fill="#ff0000"/>
<circle cx="1648.1" cy="1968.2" r="10.8" fill="#ff0000"/>
<circle cx="1800.4" cy="1969.1" r="10.8" fill="#ff0000"/>
<circle cx="1952.7" cy="1957.6" r="10.8" fill="#ff0000"/>
<circle cx="2105.0" cy="1948.5" r="10.8" fill="#ff0000"/>
<circle cx="2257.4" cy="1928.3" r="10.8" fill="#ff0000"/>
<polygon points="429.5,1898.2 442.8,1921.7 416.3,1921.7" fill="#00ff00"/>
<polygon points="581.8,1975.6 595.1,1999.1 568.6,1999.1" fill="#00ff00"/>
<polygon points="734.2,1991.9 747.4,2015.4 720.9,2015.4" fill="#00ff00"/>
<polygon points="886.5,1997.7 899.7,2021.2 873.2,2021.2" fill="#00ff00"/>
<polygon points="1038.8,2012.6 1052.0,2036.1 1025.5,2036.1" fill="#00ff00"/>
<polygon points="1191.1,2009.2 1204.4,2032.7 1177.9,2032.7" fill="#00ff00"/>
<polygon points="1343.4,2010.2 1356.7,2033.7 1330.2,2033.7" fill="#00ff00"/>
<polygon points="1495.8,2019.8 1509.0,2043.3 1482.5,2043.3" fill="#00ff00"/>
<polygon points="1648.1,2013.1 1661.3,2036.6 1634.8,2036.6" fill="#00ff00"/>
<polygon points="1800.4,2013.1 1813.6,2036.6 1787.1,2036.6" fill="#00ff00"/>
<polygon points="1952.7,2008.3 1966.0,2031.8 1939.5,2031.8" fill="#00ff00"/>
<polygon points="2105.0,2002.0 2118.3,2025.5 2091.8,2025.5" fill="#00ff00"/>
<polygon points="2257.4,1991.4 2270.6,2014.9 2244.1,2014.9" fill="#00ff00"/>
<polygon points="429.5,2065.3 442.8,2041.8 416.3,2041.8" fill="#0000ff"/>
<polygon points="581.8,2108.1 595.1,2084.6 568.6,2084.6" fill="#0000ff"/>
<polygon points="734.2,2126.8 747.4,2103.3 720.9,2103.3" fill="#0000ff"/>
<polygon points="886.5,2131.1 899.7,2107.6 873.2,2107.6" fill="#0000ff"/>
<polygon points="1038.8,2135.5 1052.0,2112.0 1025.5,2112.0" fill="#0000ff"/>
<polygon points="1191.1,2126.8 1204.4,2103.3 1177.9,2103.3" fill="#0000ff"/>
<polygon points="1343.4,2129.7 1356.7,2106.2 1330.2,2106.2" fill="#0000ff"/>
<polygon points="1495.8,2127.1 1509.0,2103.6 1482.5,2103.6" fill="#0000ff"/>
<polygon points="1648.1,2129.0 1661.3,2105.5 1634.8,2105.5" fill="#0000ff"/>
<polygon points="1800.4,2128.0 1813.6,2104.5 1787.1,2104.5" fill="#0000ff"/>
<polygon points="1952.7,2127.1 1966.0,2103.6 1939.5,2103.6" fill="#0000ff"/>
<polygon points="2105.0,2113.1 2118.3,2089.6 2091.8,2089.6" fill="#0000ff"/>
<polygon points="2257.4,2098.7 2270.6,2075.2 2244.1,2075.2" fill="#0000ff"/>
<g stroke="#000" fill="none" stroke-width="3.2">
<line x1="245.5" y1="1429.5" x2="2373.5" y2="1429.5"/>
<line x1="2371.8" y1="1428" x2="2371.8" y2="2309"/>
<line x1="245.5" y1="2294.5" x2="2373.5" y2="2294.5"/>
<line x1="277.2" y1="1428" x2="277.2" y2="2325.5"/>
<line x1="246.0" y1="2294.5" x2="277.2" y2="2294.5"/>
<line x1="262.0" y1="2246.4" x2="277.2" y2="2246.4"/>
<line x1="246.0" y1="2198.4" x2="277.2" y2="2198.4"/>
<line x1="262.0" y1="2150.3" x2="277.2" y2="2150.3"/>
<line x1="246.0" y1="2102.3" x2="277.2" y2="2102.3"/>
<line x1="262.0" y1="2054.2" x2="277.2" y2="2054.2"/>
<line x1="246.0" y1="2006.1" x2="277.2" y2="2006.1"/>
<line x1="262.0" y1="1958.1" x2="277.2" y2="1958.1"/>
<line x1="246.0" y1="1910.0" x2="277.2" y2="1910.0"/>
<line x1="262.0" y1="1862.0" x2="277.2" y2="1862.0"/>
<line x1="246.0" y1="1813.9" x2="277.2" y2="1813.9"/>
<line x1="262.0" y1="1765.8" x2="277.2" y2="1765.8"/>
<line x1="246.0" y1="1717.8" x2="277.2" y2="1717.8"/>
<line x1="262.0" y1="1669.7" x2="277.2" y2="1669.7"/>
<line x1="246.0" y1="1621.7" x2="277.2" y2="1621.7"/>
<line x1="262.0" y1="1573.6" x2="277.2" y2="1573.6"/>
<line x1="246.0" y1="1525.5" x2="277.2" y2="1525.5"/>
<line x1="262.0" y1="1477.5" x2="277.2" y2="1477.5"/>
<line x1="246.0" y1="1429.4" x2="277.2" y2="1429.4"/>
<line x1="277.2" y1="2294.5" x2="277.2" y2="2325.0"/>
<line x1="467.6" y1="2294.5" x2="467.6" y2="2309.0"/>
<line x1="658.0" y1="2294.5" x2="658.0" y2="2325.0"/>
<line x1="848.4" y1="2294.5" x2="848.4" y2="2309.0"/>
<line x1="1038.8" y1="2294.5" x2="1038.8" y2="2325.0"/>
<line x1="1229.2" y1="2294.5" x2="1229.2" y2="2309.0"/>
<line x1="1419.6" y1="2294.5" x2="1419.6" y2="2325.0"/>
<line x1="1610.0" y1="2294.5" x2="1610.0" y2="2309.0"/>
<line x1="1800.4" y1="2294.5" x2="1800.4" y2="2325.0"/>
<line x1="1990.8" y1="2294.5" x2="1990.8" y2="2309.0"/>
<line x1="2181.2" y1="2294.5" x2="2181.2" y2="2325.0"/>
<line x1="2371.6" y1="2294.5" x2="2371.6" y2="2309.0"/>
</g>
<g font-family="'Liberation Serif', 'Times New Roman', serif" font-size="85" fill="#000">
<text x="223" y="2320.0" text-anchor="end">0</text>
<text x="223" y="2223.9" text-anchor="end">2</text>
<text x="223" y="2127.8" text-anchor="end">4</text>
<text x="223" y="2031.6" text-anchor="end">6</text>
<text x="223" y="1935.5" text-anchor="end">8</text>
<text x="223" y="1839.4" text-anchor="end">10</text>
<text x="223" y="1743.3" text-anchor="end">12</text>
<text x="223" y="1647.2" text-anchor="end">14</text>
<text x="223" y="1551.0" text-anchor="end">16</text>
<text x="223" y="1454.9" text-anchor="end">18</text>
<text x="277.2" y="2414" text-anchor="middle">0</text>
<text x="658.0" y="2414" text-anchor="middle">5</text>
<text x="1038.8" y="2414" text-anchor="middle">10</text>
<text x="1419.6" y="2414" text-anchor="middle">15</text>
<text x="1800.4" y="2414" text-anchor="middle">20</text>
<text x="2181.2" y="2414" text-anchor="middle">25</text>
</g>
<text font-family="'Liberation Serif', 'Times New Roman', serif" font-size="85" x="1325" y="2517.4" text-anchor="middle">Time (min)</text>
<text font-family="'Liberation Serif', 'Times New Roman', serif" font-size="85" transform="translate(104 2327.5) rotate(-90)">Wear rate (×10<tspan font-size="55" dy="-37">−4</tspan><tspan dy="37">mm</tspan><tspan font-size="55" dy="-37">3</tspan><tspan dy="37">/N·m)</tspan></text>
<line x1="1943" y1="1475.5" x2="2068" y2="1475.5" stroke="#484848" stroke-width="6.5" stroke-linecap="round"/>
<rect x="1995.2" y="1465.8" width="19.5" height="19.5" fill="#000"/>
<text font-family="'Liberation Serif', 'Times New Roman', serif" font-size="63.5" x="2082.5" y="1499.5">219 J/mm<tspan font-size="39" dy="-28.8">3</tspan></text>
<line x1="1943" y1="1562.9" x2="2068" y2="1562.9" stroke="#ee3338" stroke-width="6.5" stroke-linecap="round"/>
<circle cx="2005.0" cy="1562.9" r="10.8" fill="#ff0000"/>
<text font-family="'Liberation Serif', 'Times New Roman', serif" font-size="63.5" x="2082.5" y="1586.9">242 J/mm<tspan font-size="39" dy="-28.8">3</tspan></text>
<line x1="1943" y1="1650.3" x2="2068" y2="1650.3" stroke="#1462dc" stroke-width="6.5" stroke-linecap="round"/>
<polygon points="2005.0,1634.6 2018.2,1658.1 1991.8,1658.1" fill="#00ff00"/>
<text font-family="'Liberation Serif', 'Times New Roman', serif" font-size="63.5" x="2082.5" y="1674.3">265 J/mm<tspan font-size="39" dy="-28.8">3</tspan></text>
<line x1="1943" y1="1737.7" x2="2068" y2="1737.7" stroke="#33aa66" stroke-width="6.5" stroke-linecap="round"/>
<polygon points="2005.0,1753.4 2018.2,1729.9 1991.8,1729.9" fill="#0000ff"/>
<text font-family="'Liberation Serif', 'Times New Roman', serif" font-size="63.5" x="2082.5" y="1761.7">288 J/mm<tspan font-size="39" dy="-28.8">3</tspan></text>
<text font-family="'Liberation Serif', 'Times New Roman', serif" font-size="87" x="1207" y="2640" text-anchor="middle" textLength="488" lengthAdjust="spacing">(<tspan font-weight="bold">b</tspan>) Wear rate</text>
</svg>
</body></html>
